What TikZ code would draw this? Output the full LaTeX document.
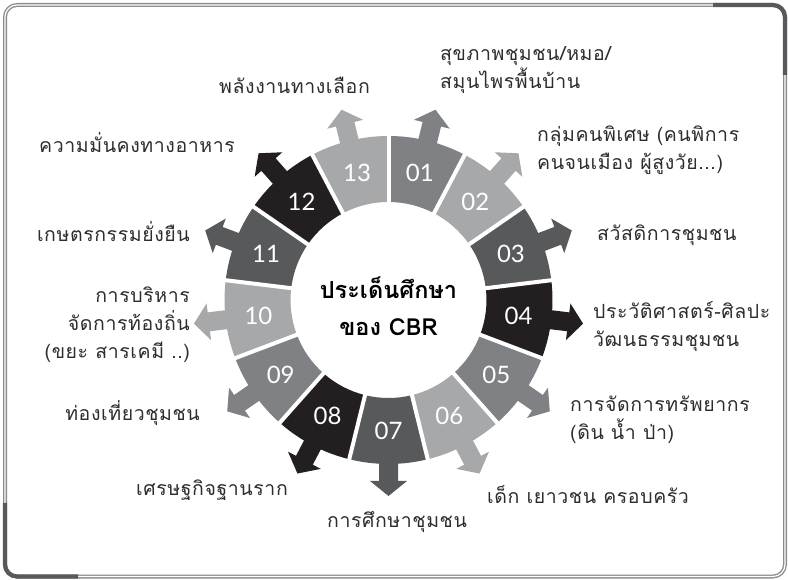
\documentclass[tikz,border=0pt]{standalone}
\usepackage{fontspec}
\newfontfamily\thaifont[Script=Thai]{Loma}
\newfontfamily\thaiwide[Script=Thai,LetterSpace=3]{Loma}
\newfontfamily\numfont{Lato}
\definecolor{segmed}{RGB}{128,129,132}
\definecolor{seglight}{RGB}{167,168,170}
\definecolor{segdark}{RGB}{88,89,91}
\definecolor{segblack}{RGB}{35,31,32}
\definecolor{labelgray}{RGB}{45,45,45}
\definecolor{framegray}{RGB}{140,140,140}
\definecolor{framedark}{RGB}{88,89,91}
\tikzset{
  lbl/.style={font=\thaiwide\fontsize{19.5}{28}\selectfont, text=labelgray, inner sep=0pt},
  numtext/.style={font=\numfont\fontsize{24}{24}\selectfont, text=white, inner sep=0pt},
  centertext/.style={font=\thaifont\bfseries\fontsize{23.5}{37}\selectfont, text=black, align=center, inner sep=0pt}
}
\begin{document}
\begin{tikzpicture}[x=1pt,y=1pt]
\useasboundingbox (0,0) rectangle (788,579);
% frame
\draw[framegray, line width=4, rounded corners=12] (5,2.5) rectangle (785,574);
\draw[white, line width=1.2, rounded corners=12] (5,2.5) rectangle (785,574);
\draw[framedark, line width=4.2] (713,574) -- (773,574) arc[start angle=90,end angle=0,radius=12] -- (785,504);
\draw[framedark, line width=4.2] (5,76) -- (5,14.5) arc[start angle=180,end angle=270,radius=12] -- (78,2.5);
% ring
\begin{scope}[shift={(388.5,279)}]
\foreach \i/\col in {1/segmed,2/seglight,3/segdark,4/segblack,5/segmed,6/seglight,7/segdark,8/segblack,9/segmed,10/seglight,11/segdark,12/segblack,13/seglight} {
  \pgfmathsetmacro\a{90-(\i-0.5)*360/13}
  \pgfmathsetmacro\sa{\a+180/13}
  \pgfmathsetmacro\ea{\a-180/13}
  \fill[\col] (\sa:98) arc[start angle=\sa,end angle=\ea,radius=98] -- (\ea:164) arc[start angle=\ea,end angle=\sa,radius=164] -- cycle;
  \fill[\col, rotate=\a] (160,-9.5) -- (181,-9.5) -- (181,-18.5) -- (196,0) -- (181,18.5) -- (181,9.5) -- (160,9.5) -- cycle;
  \node[numtext] (n\i) at (\a:131) {\ifnum\i<10 0\fi\i};
}
\foreach \k in {0,...,12} {
  \pgfmathsetmacro\b{90-\k*360/13}
  \draw[white, line width=4] (\b:94) -- (\b:168);
}
\node[centertext] (center) at (0,-6.5) {ประเด็นศึกษา\\ของ CBR};
\end{scope}
% labels
\node[lbl, anchor=west, align=left] (l1) at (440,509) {สุขภาพชุมชน/หมอ/\\สมุนไพรพื้นบ้าน};
\node[lbl, anchor=west, align=left] (l2) at (537,429) {กลุ่มคนพิเศษ (คนพิการ\\คนจนเมือง ผู้สูงวัย...)};
\node[lbl, anchor=west] (l3) at (597,344) {สวัสดิการชุมชน};
\node[lbl, anchor=west, align=left] (l4) at (593,253) {ประวัติศาสตร์-ศิลปะ\\วัฒนธรรมชุมชน};
\node[lbl, anchor=west, align=left] (l5) at (570,159) {การจัดการทรัพยากร\\(ดิน น้ำ ป่า)};
\node[lbl, anchor=west] (l6) at (487,84) {เด็ก เยาวชน ครอบครัว};
\node[lbl] (l7) at (397,57) {การศึกษาชุมชน};
\node[lbl, anchor=east] (l8) at (288,89) {เศรษฐกิจฐานราก};
\node[lbl, anchor=east] (l9) at (200,166) {ท่องเที่ยวชุมชน};
\node[lbl, anchor=east, align=right] (l10) at (190,254) {การบริหาร\\จัดการท้องถิ่น\\(ขยะ สารเคมี ..)};
\node[lbl, anchor=east] (l11) at (190,347) {เกษตรกรรมยั่งยืน};
\node[lbl, anchor=east] (l12) at (235,436) {ความมั่นคงทางอาหาร};
\node[lbl, anchor=east] (l13) at (370,494) {พลังงานทางเลือก};
\end{tikzpicture}
\end{document}
